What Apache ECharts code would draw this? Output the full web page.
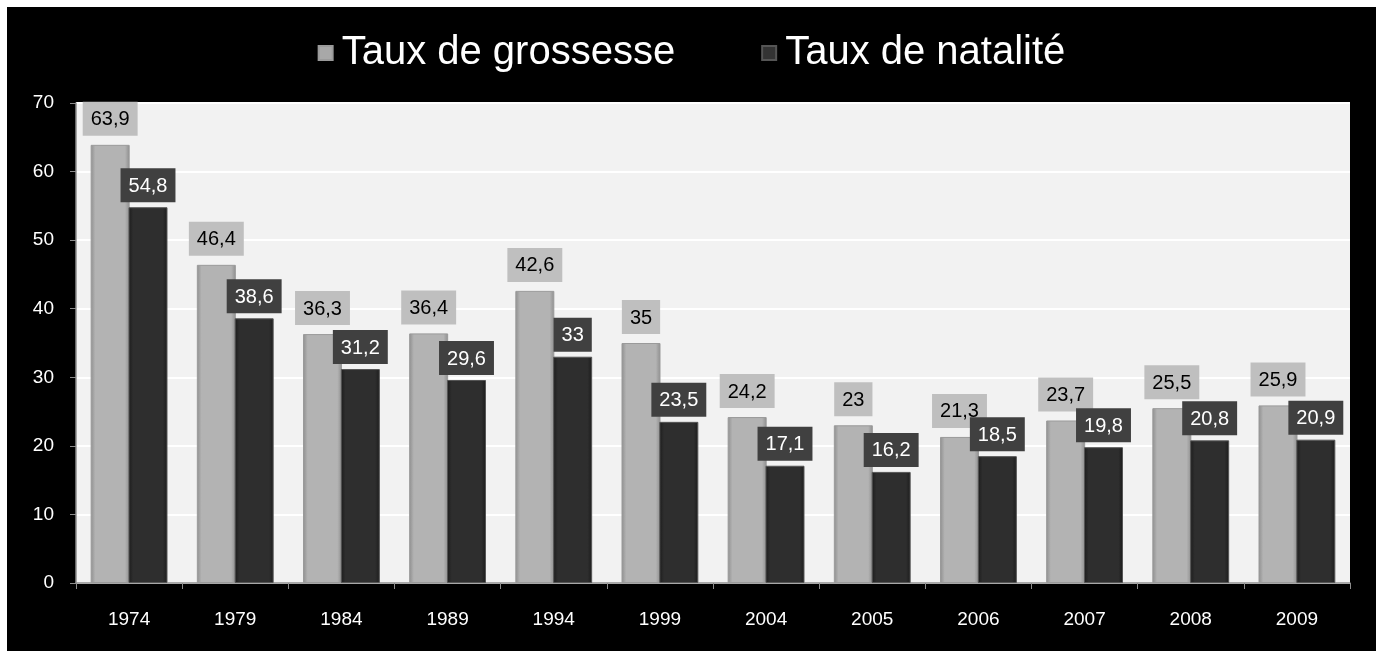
<!DOCTYPE html>
<html>
<head>
<meta charset="utf-8">
<script src="https://cdn.jsdelivr.net/npm/echarts@6/dist/echarts.min.js"></script>
<style>
    html, body { margin: 0; padding: 0; background: #fff; }
    #main { position: absolute; left: 7px; top: 7px; width: 1369px; height: 644px; }
</style>
</head>
<body>
<div id="main"></div>
<script>
// données
var years = ['1974', '1979', '1984', '1989', '1994', '1999', '2004', '2005', '2006', '2007', '2008', '2009']
var grossesse = [63.9, 46.4, 36.3, 36.4, 42.6, 35, 24.2, 23, 21.3, 23.7, 25.5, 25.9]
var natalite = [54.8, 38.6, 31.2, 29.6, 33, 23.5, 17.1, 16.2, 18.5, 19.8, 20.8, 20.9]
var yTicks = [0, 10, 20, 30, 40, 50, 60, 70]

// virgule décimale
function fmt (p) {
    return String(p.value).replace('.', ',')
}

// dégradé horizontal pour l'effet relief
function bevel (edge, mid) {
    return new echarts.graphic.LinearGradient(0, 0, 1, 0, [
        {offset: 0, color: edge},
        {offset: 0.12, color: mid},
        {offset: 0.88, color: mid},
        {offset: 1, color: edge}
    ])
}

var myChart = echarts.init(document.getElementById('main'))
var option = {
    backgroundColor: '#000',
    animation: false,
    textStyle: { fontFamily: 'Liberation Sans, Arial, sans-serif' },
    legend: {
        top: 21,
        left: 'center',
        icon: 'rect',
        itemWidth: 14,
        itemHeight: 14,
        itemGap: 86,
        textStyle: { color: '#fff', fontSize: 40, padding: [0, 0, 0, 4] },
        data: [
            { name: 'Taux de grossesse', itemStyle: { color: '#a8a8a8' } },
            { name: 'Taux de natalité', itemStyle: { color: '#333' } }
        ]
    },
    grid: {
        left: 69,
        right: 26,
        top: 96,
        bottom: 68,
        show: true,
        backgroundColor: '#f2f2f2',
        borderWidth: 0
    },
    xAxis: {
        type: 'category',
        data: years,
        axisLine: { lineStyle: { color: '#8c8c8c', width: 1.5 } },
        axisTick: { show: true, length: 6, lineStyle: { color: '#8c8c8c' } },
        axisLabel: { color: '#fff', fontSize: 19, margin: 27 }
    },
    yAxis: {
        type: 'value',
        min: yTicks[0],
        max: yTicks[yTicks.length - 1],
        interval: 10,
        axisLine: { show: true, lineStyle: { color: '#8c8c8c', width: 1.5 } },
        axisTick: { show: true, length: 6, lineStyle: { color: '#8c8c8c' } },
        axisLabel: { color: '#fff', fontSize: 19, margin: 22 },
        splitLine: { lineStyle: { color: '#fff', width: 2 } }
    },
    series: [
        {
            name: 'Taux de grossesse',
            type: 'bar',
            barWidth: 39,
            barGap: '-3%',
            data: grossesse,
            itemStyle: {
                color: bevel('#8e8e8e', '#b3b3b3'),
                borderColor: '#9a9a9a',
                borderWidth: 1
            },
            label: {
                show: true,
                position: 'top',
                distance: 9,
                formatter: fmt,
                color: '#000',
                fontSize: 20,
                backgroundColor: '#bfbfbf',
                padding: [8, 8, 6, 8]
            }
        },
        {
            name: 'Taux de natalité',
            type: 'bar',
            barWidth: 39,
            data: natalite,
            itemStyle: {
                color: bevel('#1c1c1c', '#2e2e2e'),
                borderColor: '#555',
                borderWidth: 1
            },
            label: {
                show: true,
                position: 'top',
                distance: 5,
                formatter: fmt,
                color: '#fff',
                fontSize: 20,
                backgroundColor: '#404040',
                padding: [8, 8, 6, 8]
            }
        }
    ]
}
myChart.setOption(option)
</script>
</body>
</html>
